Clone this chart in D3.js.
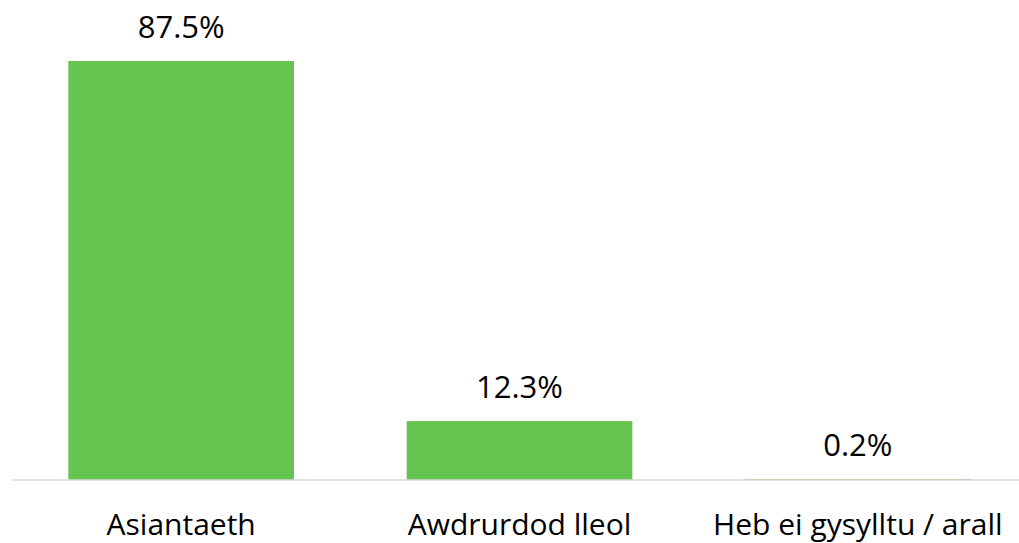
<!DOCTYPE html>
<html><head><meta charset="utf-8">
<script src="https://d3js.org/d3.v7.min.js"></script>
<style>html,body{margin:0;padding:0;background:#fff;}</style>
</head><body>
<svg id="c" width="1019" height="543"></svg>
<script>
const categories = ["Asiantaeth", "Awdrurdod lleol", "Heb ei gysylltu / arall"];
const values = [87.5, 12.3, 0.2];
const valueLabels = ["87.5%", "12.3%", "0.2%"];

const svg = d3.select("#c");
const baseY = 480;
const x = d3.scaleBand().domain(categories).range([12, 1027]).paddingInner(0.333).paddingOuter(0.1665);
const y = d3.scaleLinear().domain([0, 87.5]).range([baseY, 61]);
const font = "'Open Sans', sans-serif";

svg.selectAll("rect.bar").data(values).enter().append("rect")
  .attr("class","bar")
  .attr("x", (d,i)=>x(categories[i]))
  .attr("width", x.bandwidth())
  .attr("y", d=>y(d))
  .attr("height", d=>baseY - y(d))
  .attr("fill", "#65c350");

svg.append("line").attr("x1",12).attr("x2",1019).attr("y1",baseY).attr("y2",baseY)
  .attr("stroke","#d9d9d9").attr("stroke-width",1.5);

svg.selectAll("text.val").data(values).enter().append("text")
  .attr("class","val")
  .attr("x",(d,i)=>x(categories[i])+x.bandwidth()/2)
  .attr("y", d=>y(d)-23)
  .attr("text-anchor","middle")
  .attr("font-family",font).attr("font-size",31).attr("fill","#000")
  .text((d,i)=>valueLabels[i]);

const xAxis = d3.axisBottom(x).tickSize(0).tickPadding(0);
const g = svg.append("g").attr("transform",`translate(0,${baseY})`).call(xAxis);
g.select(".domain").remove();
g.selectAll("text").attr("font-family",font).attr("font-size",30).attr("fill","#000")
  .attr("dy",null).attr("y",55);
</script>
</body></html>
